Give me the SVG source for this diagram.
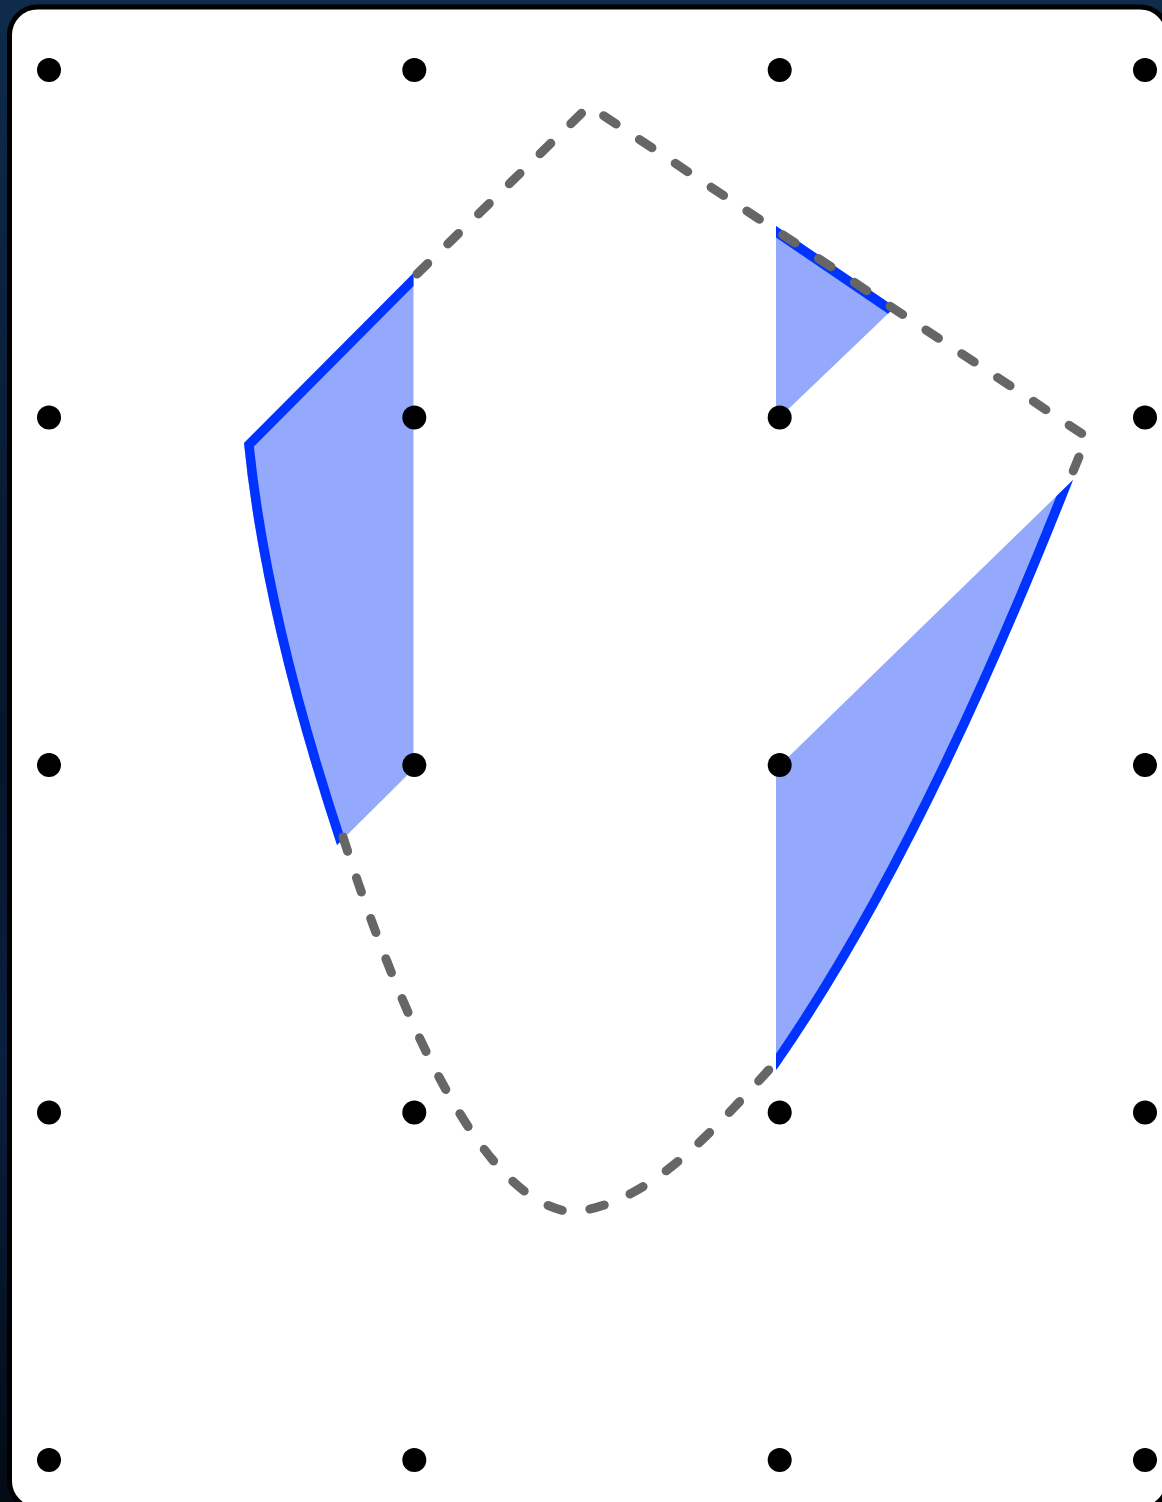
<svg xmlns="http://www.w3.org/2000/svg" width="1162" height="1502" viewBox="0 0 1162 1502">
<defs>
<linearGradient id="bg" x1="0" y1="0" x2="0" y2="1">
<stop offset="0" stop-color="#0e2b4c"/>
<stop offset="0.5" stop-color="#06152a"/>
<stop offset="0.7" stop-color="#0a2040"/>
<stop offset="1" stop-color="#030a14"/>
</linearGradient>
<clipPath id="clipL"><path d="M413.5,273 L244,443 Q261,615 337,845 L413.5,769 Z"/></clipPath>
<clipPath id="clipT"><path d="M776,226 L895,307 L778,419 L776,419 Z"/></clipPath>
<clipPath id="clipB"><path d="M776,769 L1073,480 Q924,858 779,1066 L776,1070 Z"/></clipPath>
</defs>
<style>
.dot{fill:#000}
.fill{fill:#94a8fc;stroke:none}
.edge{fill:none;stroke:#0033ff;stroke-width:19;stroke-linejoin:miter}
.dash{fill:none;stroke:#666;stroke-width:9;stroke-linecap:round;stroke-linejoin:round;stroke-dasharray:15 28}
</style>
<rect x="0" y="0" width="1162" height="1502" fill="url(#bg)"/>
<rect id="panel" x="9.5" y="7" width="1158.5" height="1502" rx="28" ry="28" fill="#fff" stroke="#000" stroke-width="5"/>
<g id="regionL">
<path class="fill" d="M413.5,273 L244,443 Q261,615 337,845 L413.5,769 Z"/>
<path class="edge" clip-path="url(#clipL)" d="M425,261 L244,443 Q261,615 337,845 L341,857"/>
</g>
<g id="regionT">
<path class="fill" d="M776,226 L895,307 L778,419 L776,419 Z"/>
<path class="edge" clip-path="url(#clipT)" d="M766,219.2 L905,313.8"/>
</g>
<g id="regionB">
<path class="fill" d="M776,769 L1073,480 Q924,858 779,1066 L776,1070 Z"/>
<path class="edge" clip-path="url(#clipB)" d="M1079,466 L1073,480 Q924,858 779,1066 L772,1076"/>
</g>
<g id="dots">
<circle class="dot" cx="49" cy="70" r="12"/><circle class="dot" cx="414.3" cy="70" r="12"/><circle class="dot" cx="779.7" cy="70" r="12"/><circle class="dot" cx="1145" cy="70" r="12"/>
<circle class="dot" cx="49" cy="417.5" r="12"/><circle class="dot" cx="414.3" cy="417.5" r="12"/><circle class="dot" cx="779.7" cy="417.5" r="12"/><circle class="dot" cx="1145" cy="417.5" r="12"/>
<circle class="dot" cx="49" cy="765" r="12"/><circle class="dot" cx="414.3" cy="765" r="12"/><circle class="dot" cx="779.7" cy="765" r="12"/><circle class="dot" cx="1145" cy="765" r="12"/>
<circle class="dot" cx="49" cy="1112.5" r="12"/><circle class="dot" cx="414.3" cy="1112.5" r="12"/><circle class="dot" cx="779.7" cy="1112.5" r="12"/><circle class="dot" cx="1145" cy="1112.5" r="12"/>
<circle class="dot" cx="49" cy="1460" r="12"/><circle class="dot" cx="414.3" cy="1460" r="12"/><circle class="dot" cx="779.7" cy="1460" r="12"/><circle class="dot" cx="1145" cy="1460" r="12"/>
</g>
<g id="connectors">
<path class="dash" d="M417,274 L589,106 L1087,437 L1068,484"/>
<path class="dash" d="M343,837 C401,1018 482,1203 572,1212 C652,1204 715,1128 776,1062"/>
</g>
</svg>
